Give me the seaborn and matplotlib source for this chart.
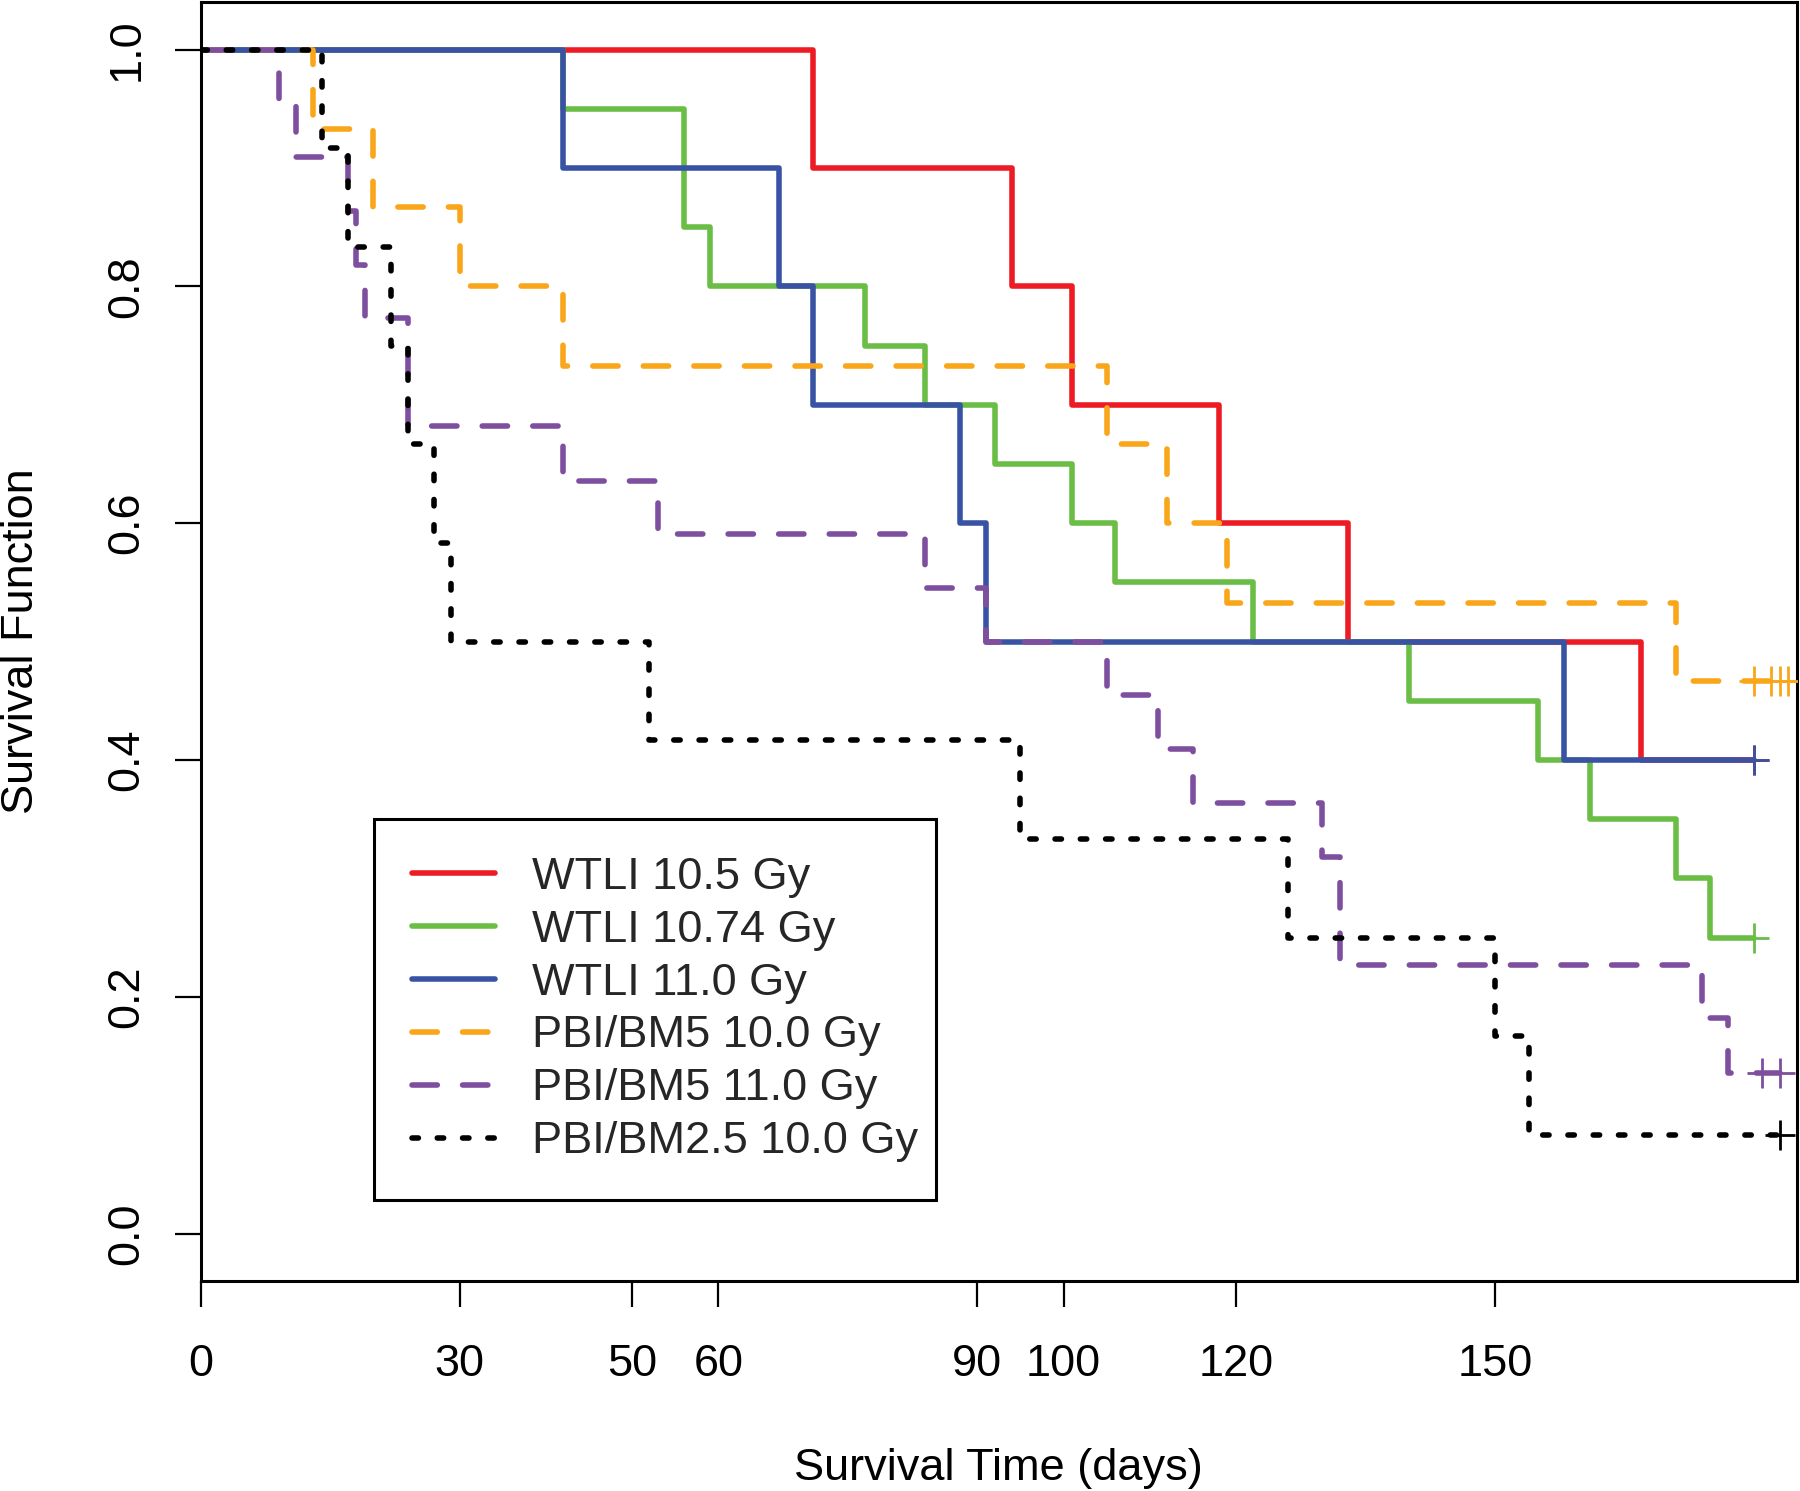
import matplotlib
matplotlib.use('Agg')
import pandas as pd
import matplotlib.pyplot as plt
import seaborn as sns

# Kaplan-Meier curves: death times (days),
# survival level right after each death, censoring times (+ marks)
wtli_105_times = [71, 94, 101, 118, 133, 167]
wtli_105_surv = [0.9, 0.8, 0.7, 0.6, 0.5, 0.4]
wtli_105_cens = [180]

wtli_1074_times = [42, 56, 59, 77, 84, 92, 101, 106, 122, 140, 155, 161, 171, 175]
wtli_1074_surv = [0.95, 0.85, 0.80, 0.75, 0.70, 0.65, 0.60, 0.55, 0.50, 0.45, 0.40, 0.35, 0.30, 0.25]
wtli_1074_cens = [180]

wtli_110_times = [42, 67, 71, 88, 91, 158]
wtli_110_surv = [0.9, 0.8, 0.7, 0.6, 0.5, 0.4]
wtli_110_cens = [180]

pbi5_100_times = [13, 20, 30, 42, 105, 112, 119, 171]
pbi5_100_surv = [0.933, 0.867, 0.800, 0.733, 0.667, 0.600, 0.533, 0.467]
pbi5_100_cens = [180, 182, 183, 184]

pbi5_110_times = [9, 11, 17, 18, 19, 24, 42, 53, 84, 91, 105, 111, 115, 130, 132, 174, 177]
pbi5_110_surv = [0.955, 0.909, 0.864, 0.818, 0.773, 0.682, 0.636, 0.591, 0.545, 0.500,
                 0.455, 0.409, 0.364, 0.318, 0.227, 0.182, 0.136]
pbi5_110_cens = [181, 183]

pbi25_100_times = [14, 17, 22, 24, 27, 29, 52, 95, 126, 150, 154]
pbi25_100_surv = [0.917, 0.833, 0.750, 0.667, 0.583, 0.500, 0.417, 0.333, 0.250, 0.167, 0.083]
pbi25_100_cens = [183]

labels = ['WTLI 10.5 Gy', 'WTLI 10.74 Gy', 'WTLI 11.0 Gy',
          'PBI/BM5 10.0 Gy', 'PBI/BM5 11.0 Gy', 'PBI/BM2.5 10.0 Gy']
x_ticks = [0, 30, 50, 60, 90, 100, 120, 150]
y_ticks = [0.0, 0.2, 0.4, 0.6, 0.8, 1.0]
y_tick_labels = ['0.0', '0.2', '0.4', '0.6', '0.8', '1.0']

groups = [
    (wtli_105_times, wtli_105_surv, wtli_105_cens),
    (wtli_1074_times, wtli_1074_surv, wtli_1074_cens),
    (wtli_110_times, wtli_110_surv, wtli_110_cens),
    (pbi5_100_times, pbi5_100_surv, pbi5_100_cens),
    (pbi5_110_times, pbi5_110_surv, pbi5_110_cens),
    (pbi25_100_times, pbi25_100_surv, pbi25_100_cens),
]
colors = ['#ED1C24', '#6ABD45', '#3953A4', '#FAA61A', '#7D4F9E', '#000000']
dash_ls = (0, (4.55, 4.55))
dot_ls = (0, (1.15, 3.4))
styles = ['-', '-', '-', dash_ls, dash_ls, dot_ls]

sns.set_theme(style='ticks')
plt.rcParams['font.family'] = ['Liberation Sans', 'DejaVu Sans']
FS = 32.5

fig = plt.figure(figsize=(18, 14.91), dpi=100)
ax = fig.add_axes([0.1116, 0.1409, 0.8866, 0.8576])

for (times, surv, cens), lab, col, ls in zip(groups, labels, colors, styles):
    curve = pd.DataFrame({'time': [0] + times + [max(cens)],
                          'surv': [1.0] + surv + [surv[-1]]})
    sns.lineplot(data=curve, x='time', y='surv', ax=ax, estimator=None, sort=False,
                 errorbar=None, drawstyle='steps-post', color=col, linewidth=4.0,
                 linestyle=ls, dash_capstyle='round', solid_capstyle='round',
                 solid_joinstyle='round', dash_joinstyle='round', label=lab)
    marks = pd.DataFrame({'time': cens, 'surv': [surv[-1]] * len(cens)})
    sns.scatterplot(data=marks, x='time', y='surv', ax=ax, marker='+', s=437,
                    color=col, linewidth=2.0, zorder=3)

ax.set_xlim(0, 185)
ax.set_ylim(-0.04, 1.04)
ax.set_xticks(x_ticks)
ax.set_xticklabels([str(v) for v in x_ticks])
ax.set_yticks(y_ticks)
ax.set_yticklabels(y_tick_labels, rotation=90, va='center')
ax.tick_params(axis='both', direction='out', length=18.7, width=1.6,
               labelsize=FS, color='black', labelcolor='black')
ax.tick_params(axis='x', pad=27)
ax.tick_params(axis='y', pad=20)
for sp in ax.spines.values():
    sp.set_visible(True)
    sp.set_color('black')
    sp.set_linewidth(2.2)

ax.set_xlabel('Survival Time (days)', fontsize=FS, color='black')
ax.set_ylabel('Survival Function', fontsize=FS, color='black')
ax.xaxis.set_label_coords(0.5, -0.1309)
ax.yaxis.set_label_coords(-0.0995, 0.5)

# legend box fixed in width, content left aligned like the R legend
leg = ax.legend(loc='upper left', bbox_to_anchor=(0.1083, 0.0, 0.3525, 0.3615),
                mode='expand', borderaxespad=0, fontsize=FS, handlelength=1.85,
                handletextpad=0.82, borderpad=0.84, labelspacing=0.265,
                fancybox=False, framealpha=1, edgecolor='black')
leg.get_frame().set_linewidth(2.2)

fig.savefig('out.png', dpi=100)
plt.close(fig)
